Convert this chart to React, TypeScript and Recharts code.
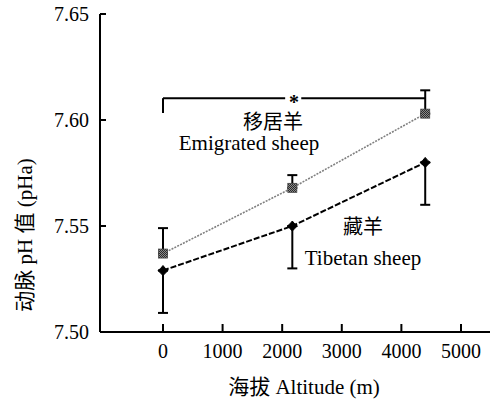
import {
  LineChart,
  Line,
  XAxis,
  YAxis,
  ErrorBar,
  ReferenceLine,
  ReferenceDot,
} from 'recharts';

// Altitude of the three sampling sites (m)
const altitudes = [0, 2170, 4400];
// Arterial pH of emigrated sheep and its (upper) error
const emigrated = [7.537, 7.568, 7.603];
const emigratedErr = [0.012, 0.006, 0.011];
// Arterial pH of Tibetan sheep and its (lower) error
const tibetan = [7.529, 7.55, 7.58];
const tibetanErr = [0.02, 0.02, 0.02];

const xTicks = [0, 1000, 2000, 3000, 4000, 5000];
const yTicks = [7.5, 7.55, 7.6, 7.65];

const FONT = "'Liberation Serif', 'Noto Sans CJK SC', serif";
const fontStyle = { fontFamily: FONT };

const data = altitudes.map((alt, i) => ({
  alt,
  emi: emigrated[i],
  emiErr: [0, emigratedErr[i]],
  tib: tibetan[i],
  tibErr: [tibetanErr[i], 0],
}));

// Gray dithered square marker
function SquareDot({ cx, cy, index }: { cx?: number; cy?: number; index?: number }) {
  if (cx == null || cy == null) return null;
  const id = `emi-pat-${index}`;
  return (
    <g key={id}>
      <defs>
        <pattern id={id} x={0} y={0} width={2} height={2} patternUnits="userSpaceOnUse">
          <rect width={2} height={2} fill="#8a8a8a" />
          <rect width={1} height={1} fill="#2a2a2a" />
          <rect x={1} y={1} width={1} height={1} fill="#2a2a2a" />
        </pattern>
      </defs>
      <rect x={cx - 4.5} y={cy - 4.5} width={9} height={9} fill={`url(#${id})`} stroke="#444" strokeWidth={0.8} />
    </g>
  );
}

// Black star-ish marker
function StarDot({ cx, cy, index }: { cx?: number; cy?: number; index?: number }) {
  if (cx == null || cy == null) return null;
  const d = `M${cx},${cy - 5} L${cx + 2.5},${cy - 2} L${cx + 5},${cy} L${cx + 2.5},${cy + 2.5} L${cx},${cy + 5} L${cx - 2.5},${cy + 2.5} L${cx - 5},${cy} L${cx - 2.5},${cy - 2} Z`;
  return <path key={`tib-${index}`} d={d} fill="#000" stroke="#000" strokeWidth={1} />;
}

function XTick({ x, y, payload }: { x?: number; y?: number; payload?: { value: number } }) {
  return (
    <g>
      <line x1={x} y1={y} x2={x} y2={(y ?? 0) - 8} stroke="#000" strokeWidth={2} />
      <text x={x} y={(y ?? 0) + 19} dy="0.35em" textAnchor="middle" fontSize={20} style={fontStyle} fill="#000">
        {payload?.value}
      </text>
    </g>
  );
}

function YTick({ x, y, payload }: { x?: number; y?: number; payload?: { value: number } }) {
  return (
    <g>
      <line x1={x} y1={y} x2={(x ?? 0) + 6} y2={y} stroke="#000" strokeWidth={2} />
      <text x={(x ?? 0) - 11} y={y} dy="0.35em" textAnchor="end" fontSize={20} style={fontStyle} fill="#000">
        {payload?.value.toFixed(2)}
      </text>
    </g>
  );
}

// Text centred on a reference dot
const textLabel = (value: string, size = 20, shiftY = 0, bold = false) => (props: any) => {
  const vb = props.viewBox || {};
  const cx = (vb.x ?? 0) + (vb.width ?? 0) / 2;
  const cy = (vb.y ?? 0) + (vb.height ?? 0) / 2;
  return (
    <text
      x={cx}
      y={cy + shiftY}
      dy="0.35em"
      textAnchor="middle"
      fontSize={size}
      fontWeight={bold ? 'bold' : 'normal'}
      style={fontStyle}
      fill="#000"
    >
      {value}
    </text>
  );
};

export default function App() {
  return (
    <div style={{ position: 'absolute', left: 0, top: 0, background: '#fff' }}>
      <LineChart width={502} height={399} data={data} margin={{ top: 14, right: 12, bottom: 7, left: 40 }}>
        <XAxis
          type="number"
          dataKey="alt"
          domain={[-1057, 5487]}
          ticks={xTicks}
          tick={<XTick />}
          tickLine={false}
          tickSize={0}
          tickMargin={0}
          height={60}
          axisLine={{ stroke: '#000', strokeWidth: 2 }}
          label={() => (
            <text x={304} y={387} dy="0.35em" textAnchor="middle" fontSize={21} style={fontStyle} fill="#000">
              海拔 Altitude (m)
            </text>
          )}
        />
        <YAxis
          type="number"
          domain={[7.5, 7.65]}
          ticks={yTicks}
          tick={<YTick />}
          tickLine={false}
          tickSize={0}
          tickMargin={0}
          width={60}
          axisLine={{ stroke: '#000', strokeWidth: 2 }}
          label={() => (
            <text
              x={25}
              y={235}
              dy="0.35em"
              textAnchor="middle"
              fontSize={21}
              style={fontStyle}
              fill="#000"
              transform="rotate(-90 25 235)"
            >
              动脉 pH 值 (pHa)
            </text>
          )}
        />
        {/* significance bracket */}
        <ReferenceLine segment={[{ x: 0, y: 7.6033 }, { x: 0, y: 7.6103 }]} stroke="#000" strokeWidth={2} />
        <ReferenceLine segment={[{ x: 0, y: 7.6103 }, { x: 2050, y: 7.6103 }]} stroke="#000" strokeWidth={2} />
        <ReferenceLine segment={[{ x: 2320, y: 7.6103 }, { x: 4400, y: 7.6103 }]} stroke="#000" strokeWidth={2} />
        <ReferenceDot x={2200} y={7.6103} r={0} stroke="none" fill="none" label={textLabel('*', 20, 3.5, true)} />
        <ReferenceDot x={1846} y={7.599} r={0} stroke="none" fill="none" label={textLabel('移居羊', 20)} />
        <ReferenceDot x={1443} y={7.5893} r={0} stroke="none" fill="none" label={textLabel('Emigrated sheep', 21)} />
        <ReferenceDot x={3356} y={7.5494} r={0} stroke="none" fill="none" label={textLabel('藏羊', 20)} />
        <ReferenceDot x={3356} y={7.5353} r={0} stroke="none" fill="none" label={textLabel('Tibetan sheep', 21)} />
        <Line
          type="linear"
          dataKey="emi"
          stroke="#808080"
          strokeWidth={1.6}
          strokeDasharray="2 1.2"
          dot={(p: any) => <SquareDot key={`e${p.index}`} {...p} />}
          activeDot={false}
          isAnimationActive={false}
        >
          <ErrorBar dataKey="emiErr" width={5} stroke="#000" strokeWidth={2} direction="y" isAnimationActive={false} />
        </Line>
        <Line
          type="linear"
          dataKey="tib"
          stroke="#000"
          strokeWidth={2}
          strokeDasharray="6 2"
          dot={(p: any) => <StarDot key={`t${p.index}`} {...p} />}
          activeDot={false}
          isAnimationActive={false}
        >
          <ErrorBar dataKey="tibErr" width={5} stroke="#000" strokeWidth={2} direction="y" isAnimationActive={false} />
        </Line>
      </LineChart>
    </div>
  );
}
